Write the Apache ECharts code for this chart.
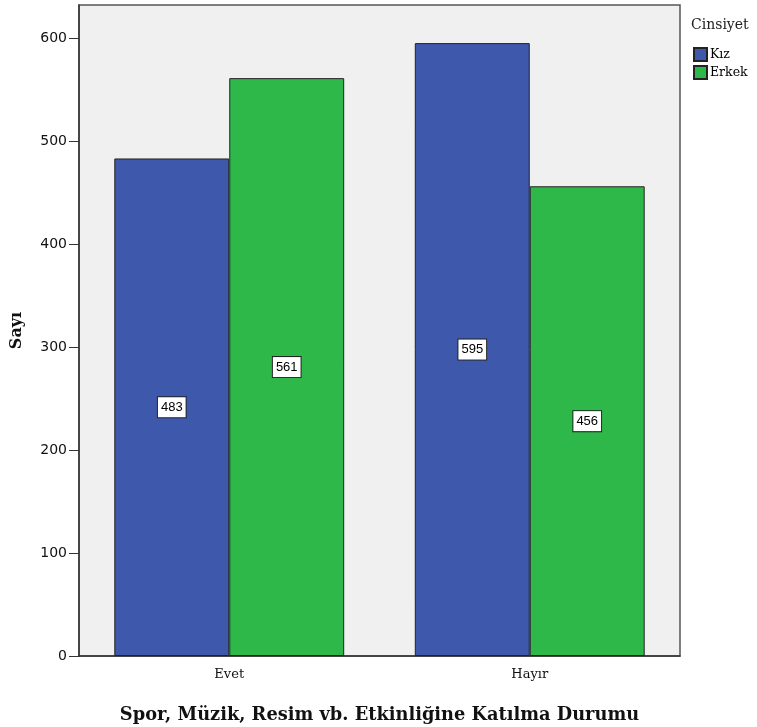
<!DOCTYPE html>
<html><head><meta charset="utf-8">
<script src="https://cdn.jsdelivr.net/npm/echarts@6/dist/echarts.min.js"></script>
<style>html,body{margin:0;padding:0;background:#fff}#c{width:757px;height:727px}</style>
</head><body><div id="c"></div>
<script>
var categories = ['Evet', 'Hayır'];
var seriesNames = ['Kız', 'Erkek'];
var kizValues = [483, 595];
var erkekValues = [561, 456];
var yTicks = [0, 100, 200, 300, 400, 500, 600];

var chart = echarts.init(document.getElementById('c'));
var labelStyle = {
  show: true, position: 'inside', color: '#000', fontFamily: 'Liberation Sans, Arial, sans-serif',
  fontSize: 13, backgroundColor: '#fff', borderColor: '#222', borderWidth: 1, padding: [4, 3, 3, 3]
};
chart.setOption({
  animation: false,
  title: { text: 'Cinsiyet', left: 686, top: 13, textStyle: { fontFamily: 'DejaVu Serif, serif', fontWeight: 'normal', fontSize: 14, color: '#222' } },
  legend: {
    data: seriesNames, orient: 'vertical', left: 688, top: 42, itemWidth: 13, itemHeight: 13, itemGap: 3,
    icon: 'rect', textStyle: { fontFamily: 'DejaVu Serif, serif', fontSize: 12.5, color: '#000', padding: [0, 0, 0, -2] }
  },
  grid: { left: 79, right: 77, top: 5, bottom: 71, show: true, outerBoundsMode: 'none', containLabel: false,
    backgroundColor: '#F0F0F0', borderColor: '#555', borderWidth: 1.5 },
  xAxis: {
    type: 'category', data: categories,
    name: 'Spor, Müzik, Resim vb. Etkinliğine Katılma Durumu', nameLocation: 'middle', nameGap: 50,
    nameTextStyle: { fontFamily: 'DejaVu Serif, serif', fontWeight: 'bold', fontSize: 17.8, color: '#111' },
    axisLine: { lineStyle: { color: '#333', width: 1.5 } },
    axisTick: { alignWithLabel: true, length: 7, lineStyle: { color: '#333' } },
    axisLabel: { fontFamily: 'DejaVu Serif, serif', fontSize: 13, color: '#111', margin: 12 }
  },
  yAxis: {
    type: 'value', min: 0, max: 632, interval: 100,
    name: 'Sayı', nameLocation: 'middle', nameGap: 54, nameRotate: 90,
    nameTextStyle: { fontFamily: 'DejaVu Serif, serif', fontWeight: 'bold', fontSize: 16, color: '#111' },
    axisLine: { show: true, lineStyle: { color: '#333', width: 1.5 } },
    axisTick: { show: true, length: 10, lineStyle: { color: '#333' } },
    axisLabel: { fontFamily: 'DejaVu Sans, sans-serif', fontSize: 14, color: '#111', margin: 12, showMaxLabel: false,
      formatter: function (v) { return yTicks.indexOf(v) >= 0 ? String(v) : ''; } },
    splitLine: { show: false }
  },
  series: [
    { name: seriesNames[0], type: 'bar', data: kizValues, barGap: '0%', barCategoryGap: '23.5%',
      itemStyle: { color: '#3E58AC', borderColor: '#222', borderWidth: 1 }, label: labelStyle },
    { name: seriesNames[1], type: 'bar', data: erkekValues,
      itemStyle: { color: '#2EB84A', borderColor: '#222', borderWidth: 1 }, label: labelStyle }
  ]
});
</script></body></html>
